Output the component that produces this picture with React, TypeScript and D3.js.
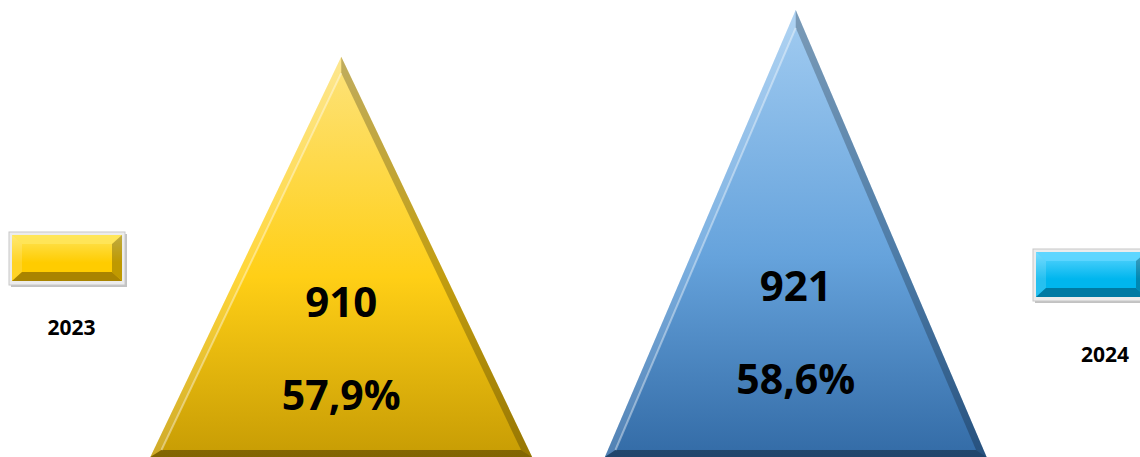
import React from 'react';
import { scaleBand, scaleLinear, formatLocale } from 'd3';

// chart data
const categories = ['2023', '2024'];
const headcount = [910, 921];
const shares = [57.9, 58.6];

const W = 1140;
const H = 457;

const colors = [
  { top: '#fde37c', mid: '#ffcf16', bottom: '#c79c04', key: '#ffcc00', keyTop: '#ffe55a', keyBottom: '#a98400' },
  { top: '#a2ccf1', mid: '#66a3dc', bottom: '#336ba6', key: '#00b6ee', keyTop: '#5fd6ff', keyBottom: '#007aa3' },
];

// legend key boxes (left for 2023, right for 2024)
const legendLayout = [
  { x: 9, y: 232, w: 116, h: 53, lx: 71.5, ly: 335 },
  { x: 1033, y: 249, w: 116, h: 52, lx: 1105, ly: 362 },
];

const pt = formatLocale({ decimal: ',', thousands: '.', grouping: [3], currency: ['', ''] }).format('.1f');
const FONT = "'Open Sans', 'DejaVu Sans', sans-serif";

type P = [number, number];

function inset(pts: P[], d: number): P[] {
  const [A, B, C] = pts;
  const dist = (p: P, q: P) => Math.hypot(p[0] - q[0], p[1] - q[1]);
  const a = dist(B, C), b = dist(C, A), c = dist(A, B);
  const s = a + b + c;
  const I: P = [(a * A[0] + b * B[0] + c * C[0]) / s, (a * A[1] + b * B[1] + c * C[1]) / s];
  const area = Math.abs((B[0] - A[0]) * (C[1] - A[1]) - (C[0] - A[0]) * (B[1] - A[1])) / 2;
  const r = (2 * area) / s;
  const k = (r - d) / r;
  return pts.map(p => [I[0] + (p[0] - I[0]) * k, I[1] + (p[1] - I[1]) * k] as P);
}

const poly = (pts: P[]) => 'M' + pts.map(p => p.join(',')).join('L') + 'Z';

const LegendKey: React.FC<{ i: number }> = ({ i }) => {
  const L = legendLayout[i];
  const c = colors[i];
  const fx = L.x + 3, fy = L.y + 3, fw = L.w - 6, fh = L.h - 7;
  const bx = 10, by = 9;
  const o: P[] = [[fx, fy], [fx + fw, fy], [fx + fw, fy + fh], [fx, fy + fh]];
  const n: P[] = [[fx + bx, fy + by], [fx + fw - bx, fy + by], [fx + fw - bx, fy + fh - by], [fx + bx, fy + fh - by]];
  return (
    <g>
      <rect x={L.x + 2} y={L.y + 2} width={L.w} height={L.h} fill="#9a9a9a" opacity={0.6} />
      <rect x={L.x} y={L.y} width={L.w} height={L.h} fill="#ececec" stroke="#c8c8c8" strokeWidth={1} />
      <rect x={fx} y={fy} width={fw} height={fh} fill={`url(#key${i})`} />
      <path d={poly([o[0], o[1], n[1], n[0]])} fill={c.keyTop} opacity={0.9} />
      <path d={poly([o[0], n[0], n[3], o[3]])} fill="#fff" opacity={0.15} />
      <path d={poly([o[1], o[2], n[2], n[1]])} fill="#000" opacity={0.25} />
      <path d={poly([o[3], n[3], n[2], o[2]])} fill={c.keyBottom} />
      <text x={L.lx} y={L.ly} textAnchor="middle" fontFamily={FONT} fontWeight={700} fontSize={21} fill="#000">
        {categories[i]}
      </text>
    </g>
  );
};

export default function App() {
  const x = scaleBand<string>().domain(categories).range([114, 1023]).paddingInner(0.16).paddingOuter(0.08);
  const y = scaleLinear().domain([816, 921]).range([H, 10]);

  return (
    <svg width={W} height={H} viewBox={`0 0 ${W} ${H}`}
      style={{ position: 'absolute', left: 0, top: 0, display: 'block', background: '#fff' }}>
      <defs>
        {colors.map((c, i) => (
          <linearGradient key={i} id={`tri${i}`} x1="0" y1="0" x2="0" y2="1">
            <stop offset="0" stopColor={c.top} />
            <stop offset="0.55" stopColor={c.mid} />
            <stop offset="1" stopColor={c.bottom} />
          </linearGradient>
        ))}
        {colors.map((c, i) => (
          <linearGradient key={i} id={`key${i}`} x1="0" y1="0" x2="0" y2="1">
            <stop offset="0" stopColor={c.keyTop} />
            <stop offset="0.6" stopColor={c.key} />
            <stop offset="1" stopColor={c.key} />
          </linearGradient>
        ))}
      </defs>

      {categories.map((cat, i) => {
        const x0 = x(cat)!;
        const bw = x.bandwidth();
        const cx = x0 + bw / 2;
        const top = y(headcount[i]);
        const base = y(816);
        const outer: P[] = [[cx, top], [x0, base], [x0 + bw, base]];
        const inner = inset(outer, 7);
        const [A, B, C] = outer;
        const [a, b, c] = inner;
        const labelY = top + (base - top) * 0.65;
        return (
          <g key={cat}>
            <path d={poly(outer)} fill={`url(#tri${i})`} />
            <path d={poly([A, B, b, a])} fill="#fff" opacity={0.15} />
            <path d={poly([A, a, c, C])} fill="#000" opacity={0.24} />
            <path d={poly([B, C, c, b])} fill="#000" opacity={0.35} />
            <line x1={a[0]} y1={a[1]} x2={b[0]} y2={b[1]} stroke="#fff" strokeOpacity={0.4} strokeWidth={2} />
            <text x={cx} y={labelY} textAnchor="middle" fontFamily={FONT} fontWeight={700} fontSize={42} fill="#000">
              {headcount[i]}
            </text>
            <text x={cx} y={labelY + 93} textAnchor="middle" fontFamily={FONT} fontWeight={700} fontSize={41} fill="#000">
              {pt(shares[i]) + '%'}
            </text>
          </g>
        );
      })}

      {categories.map((_, i) => <LegendKey key={i} i={i} />)}
    </svg>
  );
}
